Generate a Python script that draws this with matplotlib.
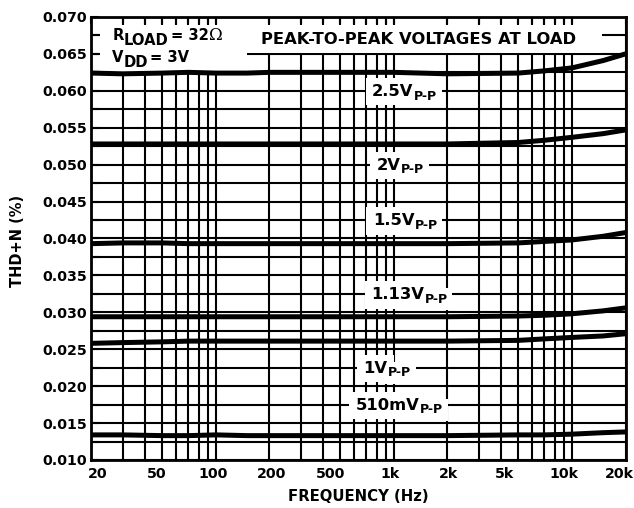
import numpy as np
import matplotlib.pyplot as plt
from matplotlib.patches import Rectangle
from matplotlib.transforms import ScaledTranslation
from matplotlib.ticker import FixedLocator, FixedFormatter, MultipleLocator, FormatStrFormatter

plt.rcParams['font.family'] = ['DejaVu Sans']
plt.rcParams['font.weight'] = 'bold'

# THD+N vs frequency at each peak-to-peak output level
freq = [20, 30, 50, 70, 100, 150, 200, 500, 1000, 2000, 5000, 7000, 10000, 15000, 20000]
thd_2v5 = [0.0624, 0.0623, 0.0624, 0.0625, 0.0624, 0.0624, 0.0625, 0.0625, 0.0625,
           0.0623, 0.0624, 0.0627, 0.0631, 0.0641, 0.0650]
thd_2v = [0.0528, 0.0528, 0.0528, 0.0528, 0.0528, 0.0528, 0.0528, 0.0528, 0.0528,
          0.0528, 0.0530, 0.0533, 0.0537, 0.0542, 0.0547]
thd_1v5 = [0.0393, 0.0394, 0.0394, 0.0393, 0.0393, 0.0393, 0.0393, 0.0393, 0.0393,
           0.0393, 0.0394, 0.0396, 0.0398, 0.0403, 0.0408]
thd_1v13 = [0.0294, 0.0294, 0.0294, 0.0294, 0.0294, 0.0294, 0.0294, 0.0294, 0.0294,
            0.0294, 0.0295, 0.0296, 0.0298, 0.0302, 0.0306]
thd_1v = [0.0258, 0.0259, 0.0260, 0.0261, 0.0261, 0.0261, 0.0261, 0.0261, 0.0261,
          0.0261, 0.0262, 0.0264, 0.0266, 0.0268, 0.0271]
thd_510mv = [0.0134, 0.0134, 0.0133, 0.0133, 0.0134, 0.0133, 0.0133, 0.0133, 0.0133,
             0.0133, 0.0134, 0.0134, 0.0135, 0.0137, 0.0138]
curves = [thd_2v5, thd_2v, thd_1v5, thd_1v13, thd_1v, thd_510mv]

# curve tags: main part, subscript, frequency where they join, grid line they sit on
tag_main = ['2.5V', '2V', '1.5V', '1.13V', '1V', '510mV']
tag_sub = 'P-P'
tag_freq = [1290, 1090, 1300, 1480, 920, 1390]
tag_y = [0.0600, 0.0500, 0.0425, 0.0325, 0.0225, 0.0175]

grid_freq = [20, 30, 40, 50, 60, 70, 80, 90, 100, 200, 300, 400, 500, 600, 700, 800, 900,
             1000, 2000, 3000, 4000, 5000, 6000, 7000, 8000, 9000, 10000, 20000]
xtick_vals = [20, 50, 100, 200, 500, 1000, 2000, 5000, 10000, 20000]
xtick_text = ['20', '50', '100', '200', '500', '1k', '2k', '5k', '10k', '20k']
xtick_nudge = [6, -6, -3, 2, -10, -4, 1, -14, -8, -6]  # pixels

fig = plt.figure(figsize=(6.34, 5.08), dpi=100)
ax = fig.add_axes([0.1443, 0.0945, 0.8423, 0.8721])
ax.set_xscale('log')
ax.set_xlim(20, 20000)
ax.set_ylim(0.010, 0.070)

# grid drawn by hand so the white boxes can cover it
for f in grid_freq:
    ax.axvline(f, color='black', lw=1.5, zorder=1)
for v in np.arange(0.010, 0.0701, 0.0025):
    ax.axhline(v, color='black', lw=1.5, zorder=1)

ax.set_axisbelow(False)
ax.xaxis.set_major_locator(FixedLocator(xtick_vals))
ax.xaxis.set_major_formatter(FixedFormatter(xtick_text))
ax.xaxis.set_minor_locator(FixedLocator(grid_freq))
ax.yaxis.set_major_locator(MultipleLocator(0.005))
ax.yaxis.set_minor_locator(MultipleLocator(0.0025))
ax.yaxis.set_major_formatter(FormatStrFormatter('%.3f'))
ax.tick_params(axis='x', which='both', direction='in', top=True, bottom=False,
               length=5, width=1.5, labelsize=10.2, pad=5)
ax.tick_params(axis='y', which='both', direction='in', left=True, right=False,
               length=6, width=1.5, labelsize=10.2, pad=3)
for s in ax.spines.values():
    s.set_linewidth(2)

for lab, dx in zip(ax.get_xticklabels(), xtick_nudge):
    lab.set_transform(lab.get_transform() + ScaledTranslation(dx / 100, 0, fig.dpi_scale_trans))

for vals in curves:
    ax.plot(freq, vals, color='black', lw=3.6, solid_capstyle='butt', zorder=3)

# white areas behind the header texts
ax.add_patch(Rectangle((0.016, 0.876), 0.275, 0.106, transform=ax.transAxes,
                       facecolor='white', edgecolor='none', zorder=2))
ax.add_patch(Rectangle((0.291, 0.918), 0.665, 0.064, transform=ax.transAxes,
                       facecolor='white', edgecolor='none', zorder=2))

# curve tags: white boxes first, black text on top
box_main = dict(boxstyle='square,pad=0.38', facecolor='white', edgecolor='none')
box_sub = dict(boxstyle='square,pad=0.35', facecolor='white', edgecolor='none')
for main, fx, fy in zip(tag_main, tag_freq, tag_y):
    for colour, zo, bm, bs in [('white', 2, box_main, box_sub), ('black', 2.6, None, None)]:
        ax.annotate(main, (fx, fy), xytext=(0, -3.9), textcoords='offset points',
                    ha='right', va='baseline', fontsize=11.8, color=colour,
                    zorder=zo, bbox=bm)
        ax.annotate(tag_sub, (fx, fy), xytext=(0.5, -6.3), textcoords='offset points',
                    ha='left', va='baseline', fontsize=9, color=colour,
                    zorder=zo, bbox=bs)

ax.text(0.613, 0.938, 'PEAK-TO-PEAK VOLTAGES AT LOAD', transform=ax.transAxes,
        ha='center', va='baseline', fontsize=11.8, zorder=4)


def chain(prev, txt, dx, dy, **kw):
    # place a piece of text right after the previous one, shifted by dx, dy points
    return ax.annotate(txt, (1, 0), xycoords=prev, xytext=(dx, dy),
                       textcoords='offset points', ha='left', va='bottom',
                       zorder=4, **kw)


r = ax.text(0.039, 0.948, 'R', transform=ax.transAxes, ha='left', va='baseline',
            fontsize=10.6, zorder=4)
t = chain(r, 'LOAD', 0, -3.6, fontsize=10.6)
t = chain(t, '= 32', 1.5, 3.6, fontsize=10.6)
chain(t, '\u03a9', 0.5, -0.8, fontsize=12, family='DejaVu Serif', fontweight='normal')

v = ax.text(0.039, 0.8985, 'V', transform=ax.transAxes, ha='left', va='baseline',
            fontsize=10.6, zorder=4)
t = chain(v, 'DD', 0, -3.6, fontsize=10.6)
chain(t, '= 3V', 1.5, 3.6, fontsize=10.6)

ax.set_xlabel('FREQUENCY (Hz)', fontsize=10.7, fontweight='bold')
ax.xaxis.set_label_coords(0.5, -0.066)
ax.set_ylabel('THD+N (%)', fontsize=10.5, fontweight='bold')
ax.yaxis.set_label_coords(-0.125, 0.495)

fig.savefig('out.png', dpi=100)
